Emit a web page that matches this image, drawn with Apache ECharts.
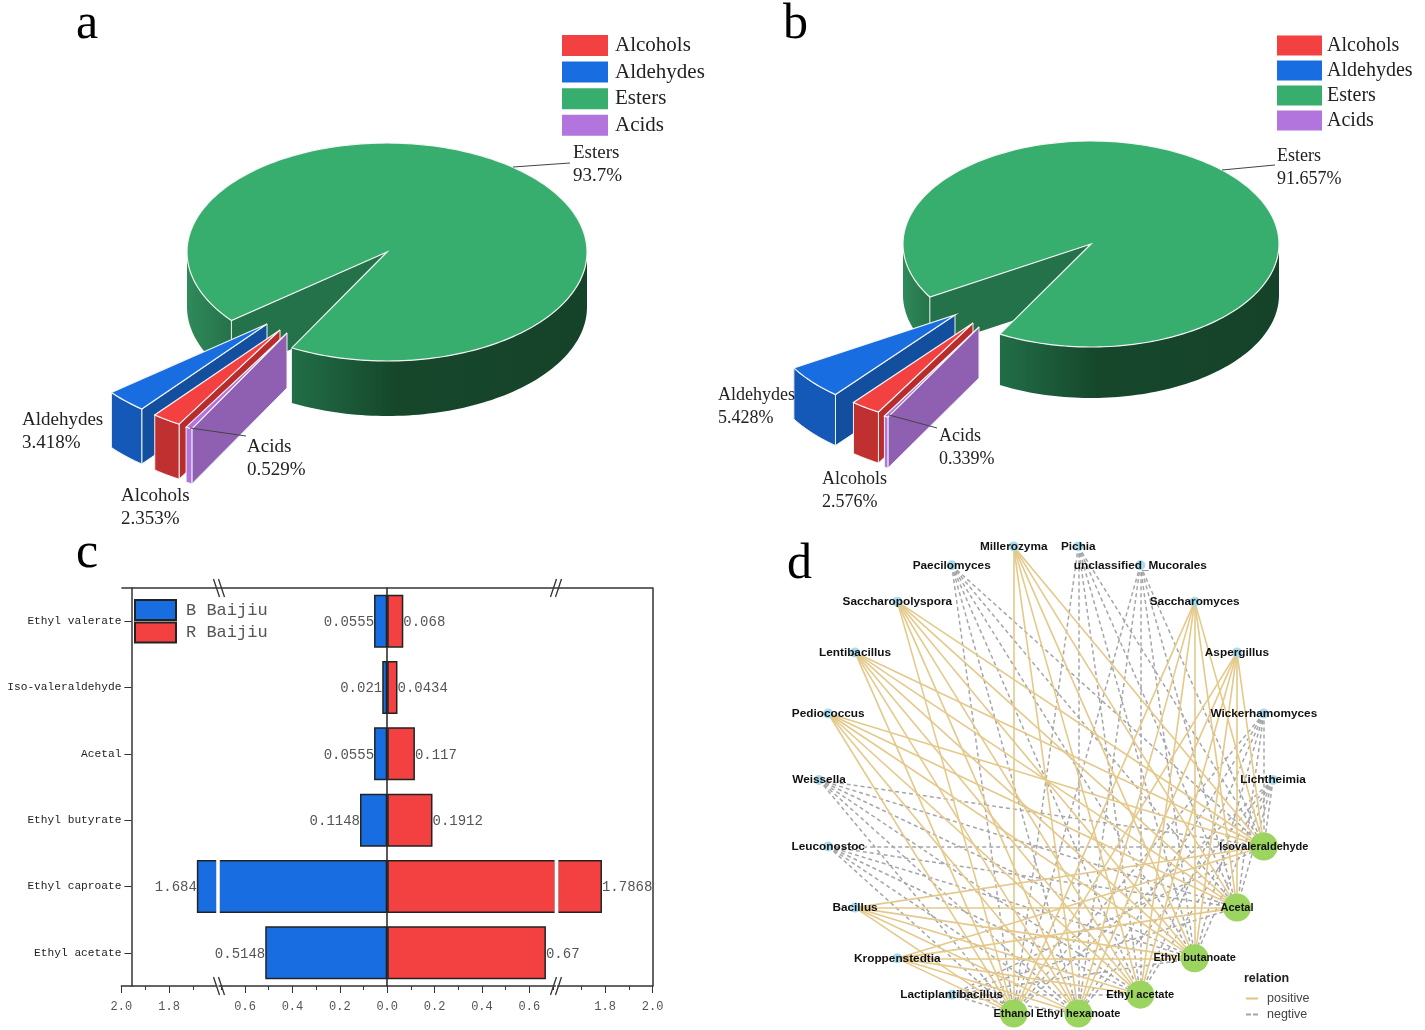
<!DOCTYPE html>
<html><head><meta charset="utf-8">
<style>html,body{margin:0;padding:0;background:#fff}#c{width:1425px;height:1030px}</style>
<script src="https://cdn.jsdelivr.net/npm/echarts@6/dist/echarts.min.js"></script>
</head><body><div id="c"></div>
<script>
// ---------- data ----------
const sliceNames = ['Alcohols', 'Aldehydes', 'Esters', 'Acids'];
const valuesA = [2.353, 3.418, 93.7, 0.529];
const valuesB = [2.576, 5.428, 91.657, 0.339];

const esterCategories = ['Ethyl valerate', 'Iso-valeraldehyde', 'Acetal', 'Ethyl butyrate', 'Ethyl caproate', 'Ethyl acetate'];
const bBaijiu = [0.0555, 0.021, 0.0555, 0.1148, 1.684, 0.5148];
const rBaijiu = [0.068, 0.0434, 0.117, 0.1912, 1.7868, 0.67];

// network nodes in clockwise ring order, starting right of the top
const ringNodes = ['Pichia', 'unclassified_Mucorales', 'Saccharomyces', 'Aspergillus', 'Wickerhamomyces', 'Lichtheimia',
  'Isovaleraldehyde', 'Acetal', 'Ethyl butanoate', 'Ethyl acetate', 'Ethyl hexanoate', 'Ethanol',
  'Lactiplantibacillus', 'Kroppenstedtia', 'Bacillus', 'Leuconostoc', 'Weissella', 'Pediococcus',
  'Lentibacillus', 'Saccharopolyspora', 'Paecilomyces', 'Millerozyma'];
const compounds = ['Isovaleraldehyde', 'Acetal', 'Ethyl butanoate', 'Ethyl acetate', 'Ethyl hexanoate', 'Ethanol'];
const positiveGenera = ['Millerozyma', 'Saccharopolyspora', 'Lentibacillus', 'Pediococcus', 'Bacillus', 'Kroppenstedtia', 'Saccharomyces', 'Aspergillus'];
const negativeGenera = ['Paecilomyces', 'Pichia', 'unclassified_Mucorales', 'Wickerhamomyces', 'Lichtheimia', 'Weissella', 'Leuconostoc', 'Lactiplantibacillus'];

// ---------- styles and layout ----------
const SERIF = '"Liberation Serif"', MONO = '"Liberation Mono"', SANS = '"Liberation Sans"';
const topColors = ['#f34041', '#186ee0', '#37ae6d', '#b175dd'];
const wallColors = ['#c13030', '#1459b8', '#2b7f53', '#b175dd'];
const sideColors = ['#b82c2c', '#124f9f', '#24724a', '#8f60b2'];
const sliceZ = [4, 3, 1, 5];

const pieA = { cx: 387, cy: 252, rx: 200, ry: 109, depth: 55, start: 120.3, font: 19, lh: 23,
  explode: [[-107, 78], [-120, 72], [0, 0], [-100, 81]],
  labels: [[121, 485], [22, 409], [573, 142], [247, 436]],
  leaders: [null, null, [513, 167, 570, 163], [190, 428, 246, 436]] };
const pieB = { cx: 1091, cy: 244, rx: 188, ry: 103, depth: 51, start: 120.2, font: 18, lh: 23,
  explode: [[-118, 79], [-136, 71], [0, 0], [-112, 83]],
  labels: [[822, 468], [718, 384], [1277, 145], [939, 425]],
  leaders: [null, null, [1222, 170, 1275, 165], [889, 415, 937, 428]] };

function arc(L, ox, oy, a0, a1, dy) {
  const pts = [], n = Math.max(2, Math.ceil(Math.abs(a1 - a0) / 1.5));
  for (let k = 0; k <= n; k++) {
    const t = (a0 + (a1 - a0) * k / n) * Math.PI / 180;
    pts.push([ox + L.rx * Math.cos(t), oy + L.ry * Math.sin(t) + dy]);
  }
  return pts;
}
function poly(points, fill, stroke, lw) {
  return { type: 'polygon', shape: { points }, style: { fill, stroke: stroke || null, lineWidth: lw || 0 } };
}
function wall(L, ox, oy, a0, a1, fill, stroke) {
  return poly(arc(L, ox, oy, a0, a1, 0).concat(arc(L, ox, oy, a1, a0, L.depth)), fill, stroke, stroke ? 1 : 0);
}
function pieSeries(L, values) {
  const total = values.reduce((s, v) => s + v, 0);
  let cursor = L.start;
  return sliceNames.map((name, i) => {
    const a0 = cursor, a1 = cursor + values[i] / total * 360;
    cursor = a1;
    const render = () => {
      const ox = L.cx + L.explode[i][0], oy = L.cy + L.explode[i][1];
      const c = [];
      const p0 = arc(L, ox, oy, a0, a0, 0)[0];
      const cut = [[ox, oy], p0, [p0[0], p0[1] + L.depth], [ox, oy + L.depth]];
      if (values[i] > 50) {
        if (a0 < 180) c.push(wall(L, ox, oy, a0, 180, new echarts.graphic.LinearGradient(0, 0, 1, 0, [
          { offset: 0, color: '#2f8a5a' }, { offset: 1, color: '#257249' }])));
        c.push(poly(cut, sideColors[i]));
        c.push({ type: 'line', shape: { x1: p0[0], y1: p0[1], x2: p0[0], y2: p0[1] + L.depth }, style: { stroke: '#e8f3ec', lineWidth: 1 } });
        c.push(wall(L, ox, oy, 360, a1, new echarts.graphic.LinearGradient(1, 0, 0, 0, [
          { offset: 0, color: '#15432a' }, { offset: 0.65, color: '#16472b' }, { offset: 1, color: '#216e47' }])));
      } else {
        c.push(poly(cut, sideColors[i], '#f2f2f2', 1));
        c.push(wall(L, ox, oy, a0, a1, wallColors[i], '#f2f2f2'));
      }
      c.push(poly([[ox, oy]].concat(arc(L, ox, oy, a0, a1, 0)), topColors[i], '#f4f4f4', 1.2));
      if (L.leaders[i]) {
        const m = L.leaders[i];
        c.push({ type: 'line', shape: { x1: m[0], y1: m[1], x2: m[2], y2: m[3] }, style: { stroke: '#444', lineWidth: 1 } });
      }
      c.push({ type: 'text', style: { x: L.labels[i][0], y: L.labels[i][1], text: name + '\n' + values[i] + '%',
        fill: '#222', fontFamily: SERIF, fontSize: L.font, lineHeight: L.lh, align: 'left', verticalAlign: 'top' } });
      return { type: 'group', children: c };
    };
    return { type: 'custom', name, coordinateSystem: 'none', silent: true, z: sliceZ[i],
      itemStyle: { color: topColors[i] }, data: [[values[i]]], renderItem: render };
  });
}

// panel c: three side-by-side segments make the broken value axis
const barTop = 588, barHeight = 398;
const segments = [
  { left: 121.4, width: 95.5, min: -2, max: -1.6, major: [-2, -1.8], minor: [-1.9, -1.7], outer: true },
  { left: 219, width: 336.4, min: -0.71, max: 0.71, major: [-0.6, -0.4, -0.2, 0, 0.2, 0.4, 0.6], minor: [-0.7, -0.5, -0.3, -0.1, 0.1, 0.3, 0.5, 0.7], outer: false },
  { left: 557.6, width: 95, min: 1.6, max: 2, major: [1.8, 2], minor: [1.7, 1.9], outer: true }
];
const tickFont = { fontFamily: MONO, fontSize: 12, color: '#555' };
function barData(values, sign, seg) {
  return values.map(v => {
    const x = sign * v, inOuter = Math.abs(x) > 1.6;
    if (seg.outer) return inOuter && x * seg.min > 0 ? x : null;
    return inOuter ? { value: x, label: { show: false } } : x;
  });
}
const barSeries = [];
segments.forEach((seg, s) => {
  [['B Baijiu', bBaijiu, -1, '#186ee0', 'left'], ['R Baijiu', rBaijiu, 1, '#f34041', 'right']].forEach(d => {
    barSeries.push({ type: 'bar', name: d[0], xAxisIndex: s, yAxisIndex: s, barWidth: 53, barGap: '-100%',
      data: barData(d[1], d[2], seg), silent: true, z: 3,
      itemStyle: { color: d[3], borderColor: '#222', borderWidth: 1.5 },
      label: { show: true, position: d[4], distance: 0, offset: [0, 1], color: '#555', fontFamily: MONO, fontSize: 14,
        formatter: p => String(Math.abs(Array.isArray(p.value) ? p.value[0] : p.value)) } });
  });
});
const xAxes = [], yAxes = [], grids = [];
segments.forEach((seg, s) => {
  grids.push({ left: seg.left, width: seg.width, top: barTop, height: barHeight });
  xAxes.push({ type: 'value', gridIndex: s, min: seg.min, max: seg.max, position: 'bottom', splitLine: { show: false },
    axisLine: { show: true, onZero: false, lineStyle: { color: '#333', width: 1.5 } },
    axisTick: { show: true, length: 7, customValues: seg.major, lineStyle: { color: '#333' } },
    axisLabel: Object.assign({ show: true, margin: 15, customValues: seg.major, formatter: v => Math.abs(v).toFixed(1) }, tickFont) });
});
segments.forEach((seg, s) => {
  xAxes.push({ type: 'value', gridIndex: s, min: seg.min, max: seg.max, position: 'bottom', splitLine: { show: false },
    axisLine: { show: false, onZero: false }, axisLabel: { show: false },
    axisTick: { show: true, length: 4, customValues: seg.minor, lineStyle: { color: '#333' } } });
});
const catBase = { type: 'category', data: esterCategories, inverse: true, axisLabel: { show: false }, axisTick: { show: false }, axisLine: { show: false } };
yAxes.push(Object.assign({}, catBase, { gridIndex: 0, position: 'left', offset: -10,
  axisLine: { show: true, onZero: false, lineStyle: { color: '#333', width: 1.5 } },
  axisTick: { show: true, length: 7, alignWithLabel: true, lineStyle: { color: '#333' } },
  axisLabel: { show: true, margin: 10, interval: 0, fontFamily: MONO, fontSize: 11.2, color: '#222' } }));
yAxes.push(Object.assign({}, catBase, { gridIndex: 1, z: 10, axisLine: { show: true, onZero: true, lineStyle: { color: '#222', width: 1.5 } } }));
yAxes.push(Object.assign({}, catBase, { gridIndex: 2, position: 'right', axisLine: { show: true, onZero: false, lineStyle: { color: '#333', width: 1.5 } } }));

// panel d: circular network, nodes placed evenly on the ring
const ringStep = 360 / ringNodes.length;
const graphNodes = ringNodes.map((name, i) => {
  const t = (ringStep / 2 + i * ringStep) * Math.PI / 180, isC = compounds.includes(name);
  return { name, value: [Math.sin(t), Math.cos(t)], symbolSize: isC ? 28 : 10, itemStyle: { color: isC ? '#9bd45f' : '#a9dcee' },
    label: { fontSize: isC ? 11 : 11.8 } };
});
const edgesOf = (genera, lineStyle) => genera.flatMap(g => compounds.map(c => ({ source: g, target: c, lineStyle })));
const graphEdges = edgesOf(negativeGenera, { color: '#a6a6a6', width: 1.5, type: [4, 3], opacity: 1, curveness: 0 })
  .concat(edgesOf(positiveGenera, { color: '#e4c98a', width: 1.6, type: 'solid', opacity: 1, curveness: 0 }));
grids.push({ left: 819, width: 454, top: 544, height: 472 });
xAxes.push({ type: 'value', gridIndex: 3, min: -1, max: 1, show: false });
yAxes.push({ type: 'value', gridIndex: 3, min: -1, max: 1, show: false });

function breakMarks(x, y, dir) {
  return [-2.5, 2.5].map(o => ({ type: 'line', z: 20, shape: { x1: x + o - 3 * dir, y1: y - 9, x2: x + o + 3 * dir, y2: y + 9 }, style: { stroke: '#333', lineWidth: 1.3 } }));
}
// white strips where the long bars pass through the axis break
const bandHeight = barHeight / esterCategories.length;
const longBand = barTop + (esterCategories.indexOf('Ethyl caproate') + 0.5) * bandHeight;
function breakStrip(x, w) {
  return { type: 'rect', z: 20, shape: { x, y: longBand - 29, width: w, height: 58 }, style: { fill: '#fff' } };
}
const letter = (text, left, top) => ({ text, left, top, padding: 0, textStyle: { fontFamily: SERIF, fontSize: 50, fontWeight: 'normal', color: '#000' } });

const legendBase = { orient: 'vertical', selectedMode: false, icon: 'rect', padding: 0 };
const option = {
  animation: false, backgroundColor: '#fff',
  title: [letter('a', 76, 0), letter('b', 783, 0), letter('c', 76, 529), letter('d', 787, 540),
    { text: 'relation', left: 1244, top: 972, padding: 0, textStyle: { fontFamily: SANS, fontSize: 12.5, fontWeight: 'bold', color: '#222' } }],
  legend: [
    Object.assign({}, legendBase, { data: sliceNames, left: 562, top: 35, itemWidth: 46, itemHeight: 21, itemGap: 5.6,
      textStyle: { fontFamily: SERIF, fontSize: 21, color: '#222', padding: [2, 0, 0, 2] } }),
    Object.assign({}, legendBase, { data: sliceNames, left: 1277, top: 35.5, itemWidth: 45, itemHeight: 20, itemGap: 5,
      textStyle: { fontFamily: SERIF, fontSize: 20, color: '#222', padding: [2, 0, 0, 0] } }),
    Object.assign({}, legendBase, { data: ['B Baijiu', 'R Baijiu'], left: 134, top: 599, itemWidth: 41, itemHeight: 20, itemGap: 0.5,
      textStyle: { fontFamily: MONO, fontSize: 17, color: '#555', padding: [0, 0, 0, 5] } }),
    { orient: 'vertical', selectedMode: false, padding: 0, left: 1246, top: 992, itemWidth: 12, itemHeight: 2, itemGap: 3,
      data: [{ name: 'positive', icon: 'path://M0 0H12V2H0Z' }, { name: 'negtive', icon: 'path://M0 0H5V2H0ZM7 0H12V2H7Z' }],
      textStyle: { fontFamily: SANS, fontSize: 12.5, color: '#444', padding: [0, 0, 0, 4] } }
  ],
  graphic: { elements: [
    { type: 'line', z: 15, shape: { x1: 121.4, y1: barTop, x2: 653, y2: barTop }, style: { stroke: '#333', lineWidth: 1.5 } },
    breakStrip(216.2, 3.6), breakStrip(554.6, 3.8),
    ...breakMarks(219, barTop, 1), ...breakMarks(556, barTop, -1),
    ...breakMarks(219, barTop + barHeight, 1), ...breakMarks(556, barTop + barHeight, -1)
  ] },
  grid: grids, xAxis: xAxes, yAxis: yAxes,
  series: [
    ...pieSeries(pieA, valuesA),
    ...pieSeries(pieB, valuesB),
    ...barSeries,
    { type: 'graph', coordinateSystem: 'cartesian2d', xAxisIndex: 6, yAxisIndex: 3, layout: 'none', silent: true, z: 4,
      data: graphNodes, links: graphEdges, edgeSymbol: ['none', 'none'],
      label: { show: true, position: 'inside', offset: [0, 1], color: '#111', fontFamily: SANS, fontWeight: 'bold' },
      labelLayout: { hideOverlap: false } },
    { type: 'line', name: 'positive', xAxisIndex: 6, yAxisIndex: 3, data: [], symbol: 'none', lineStyle: { color: '#e3c47c', width: 1.6 }, itemStyle: { color: '#e3c47c' } },
    { type: 'line', name: 'negtive', xAxisIndex: 6, yAxisIndex: 3, data: [], symbol: 'none', lineStyle: { color: '#a6a6a6', width: 1.6, type: [4, 3] }, itemStyle: { color: '#a6a6a6' } }
  ]
};
const chart = echarts.init(document.getElementById('c'), null, { renderer: 'canvas' });
chart.setOption(option);
</script></body></html>
